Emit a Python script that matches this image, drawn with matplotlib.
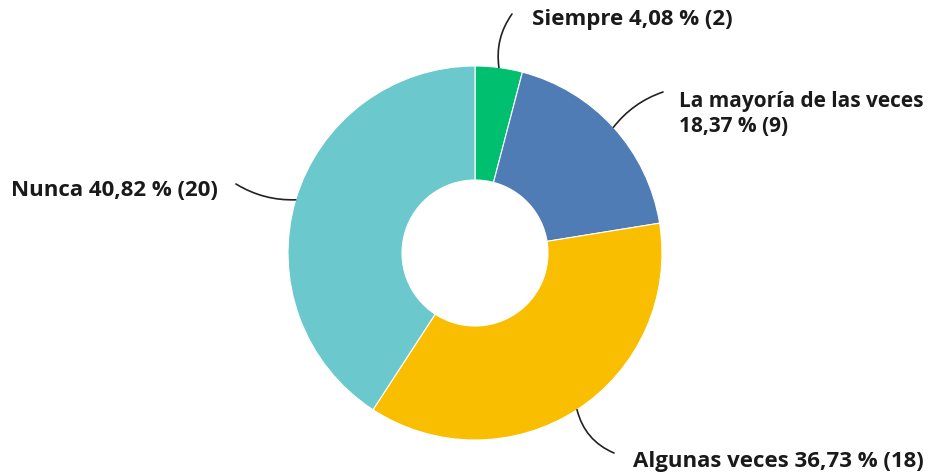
import numpy as np
import matplotlib.pyplot as plt

categorias = ['Siempre', 'La mayoría de las veces', 'Algunas veces', 'Nunca']
conteos = [2, 9, 18, 20]
porcentajes = ['4,08', '18,37', '36,73', '40,82']
colores = ['#00BF6F', '#507CB6', '#F9BE00', '#6BC8CD']

W, H = 934, 476
fig = plt.figure(figsize=(W / 100, H / 100), dpi=100)
plt.rcParams['font.family'] = ['Open Sans', 'DejaVu Sans']

# donut: centre (475, 253) px, radius 187 px
cx, cy, r = 475, 253, 187
ax = fig.add_axes([(cx - r) / W, (H - cy - r) / H, 2 * r / W, 2 * r / H])
wedges, _ = ax.pie(conteos, colors=colores, startangle=90, counterclock=False,
                   radius=1, wedgeprops=dict(width=1 - 73 / 187, edgecolor='white', linewidth=0.8))
ax.set_xlim(-1, 1)
ax.set_ylim(-1, 1)
ax.set_aspect('equal')
ax.axis('off')

# label positions (figure pixels, from top-left): line end, text anchor, curvature, size
lineas = [
    ((512, 14), (532, 20), 'left', 0.2, 16),
    ((663, 92), (679, 114), 'left', 0.15, 15),
    ((236, 184), (218, 190), 'right', 0.15, 16),
    ((614, 453), (633, 462), 'left', -0.25, 16),
]
textos = [
    f'{categorias[0]} {porcentajes[0]} % ({conteos[0]})',
    f'{categorias[1]}\n{porcentajes[1]} % ({conteos[1]})',
    f'{categorias[3]} {porcentajes[3]} % ({conteos[3]})',
    f'{categorias[2]} {porcentajes[2]} % ({conteos[2]})',
]
indices = [0, 1, 3, 2]

for (fin, pos, ha, rad, fs), txt, i in zip(lineas, textos, indices):
    w = wedges[i]
    ang = np.deg2rad((w.theta1 + w.theta2) / 2)
    xy = (np.cos(ang), np.sin(ang))
    ax.annotate('', xy=xy, xycoords='data',
                xytext=(fin[0] / W, 1 - fin[1] / H), textcoords='figure fraction',
                arrowprops=dict(arrowstyle='-', color='#222222', lw=1.2,
                                shrinkA=0, shrinkB=0,
                                connectionstyle=f'arc3,rad={rad}'))
    fig.text(pos[0] / W, 1 - pos[1] / H, txt, ha=ha, va='center',
             fontsize=fs, fontweight='bold', color='#1a1a1a', linespacing=1.3)

fig.savefig('out.png', dpi=100, facecolor='white')
